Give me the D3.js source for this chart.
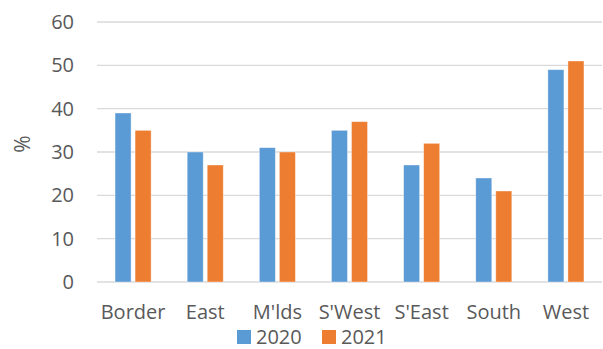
<!DOCTYPE html>
<html>
<head>
<meta charset="utf-8">
<script src="https://cdn.jsdelivr.net/npm/d3@7"></script>
<style>
  body { margin: 0; background: #fff; }
  svg text { font-family: "Open Sans", sans-serif; fill: #595959; }
</style>
</head>
<body>
<div id="chart"></div>
<script>
var categories = ["Border", "East", "M'lds", "S'West", "S'East", "South", "West"];
var seriesNames = ["2020", "2021"];
var values2020 = [39, 30, 31, 35, 27, 24, 49];
var values2021 = [35, 27, 30, 37, 32, 21, 51];
var yTicks = [0, 10, 20, 30, 40, 50, 60];
var colors = ["#5b9bd5", "#ed7d31"];

var width = 603, height = 349;
var plot = { left: 97, right: 602, top: 22, bottom: 282 };

var svg = d3.select("#chart").append("svg")
    .attr("width", width)
    .attr("height", height);

var x = d3.scaleBand()
    .domain(categories)
    .range([plot.left, plot.right])
    .paddingInner(0.5)
    .paddingOuter(0.25);

var x1 = d3.scaleBand()
    .domain(seriesNames)
    .range([0, x.bandwidth()])
    .paddingInner(0.2);

var y = d3.scaleLinear()
    .domain([0, 60])
    .range([plot.bottom, plot.top]);

// gridlines
svg.append("g")
    .selectAll("line")
    .data(yTicks)
    .enter().append("line")
    .attr("x1", plot.left)
    .attr("x2", plot.right)
    .attr("y1", function (d) { return y(d); })
    .attr("y2", function (d) { return y(d); })
    .attr("stroke", "#d9d9d9")
    .attr("stroke-width", 1.3);

// y axis labels
var yAxis = d3.axisLeft(y).tickValues(yTicks).tickSize(0).tickPadding(0);
var yg = svg.append("g")
    .attr("transform", "translate(74,0)")
    .call(yAxis);
yg.select(".domain").remove();
yg.selectAll("text")
    .style("font-size", "20px")
    .attr("fill", "#595959");

svg.append("text")
    .attr("transform", "translate(30,144) rotate(-90)")
    .attr("text-anchor", "middle")
    .style("font-size", "21px")
    .text("%");

// bars
var rows = categories.map(function (c, i) {
    return { cat: c, vals: [values2020[i], values2021[i]] };
});

var groups = svg.append("g")
    .selectAll("g")
    .data(rows)
    .enter().append("g")
    .attr("transform", function (d) { return "translate(" + x(d.cat) + ",0)"; });

groups.selectAll("rect")
    .data(function (d) {
        return d.vals.map(function (v, j) { return { key: seriesNames[j], v: v, j: j }; });
    })
    .enter().append("rect")
    .attr("x", function (d) { return x1(d.key); })
    .attr("width", x1.bandwidth())
    .attr("y", function (d) { return y(d.v); })
    .attr("height", function (d) { return y(0) - y(d.v); })
    .attr("fill", function (d) { return colors[d.j]; })
    .attr("stroke", "#ffffff")
    .attr("stroke-opacity", 0.5)
    .attr("stroke-width", 0.75);

// x axis labels
var xAxis = d3.axisBottom(x).tickSize(0).tickPadding(0);
var xg = svg.append("g")
    .attr("transform", "translate(0,305)")
    .call(xAxis);
xg.select(".domain").remove();
xg.selectAll("text")
    .style("font-size", "20px")
    .attr("fill", "#595959");

// legend
var legendX = [237, 322];
var legend = svg.append("g")
    .selectAll("g")
    .data(seriesNames)
    .enter().append("g")
    .attr("transform", function (d, i) { return "translate(" + legendX[i] + ",330)"; });

legend.append("rect")
    .attr("width", 14)
    .attr("height", 14)
    .attr("fill", function (d, i) { return colors[i]; });

legend.append("text")
    .attr("x", 19)
    .attr("y", 14)
    .style("font-size", "20px")
    .text(function (d) { return d; });
</script>
</body>
</html>
